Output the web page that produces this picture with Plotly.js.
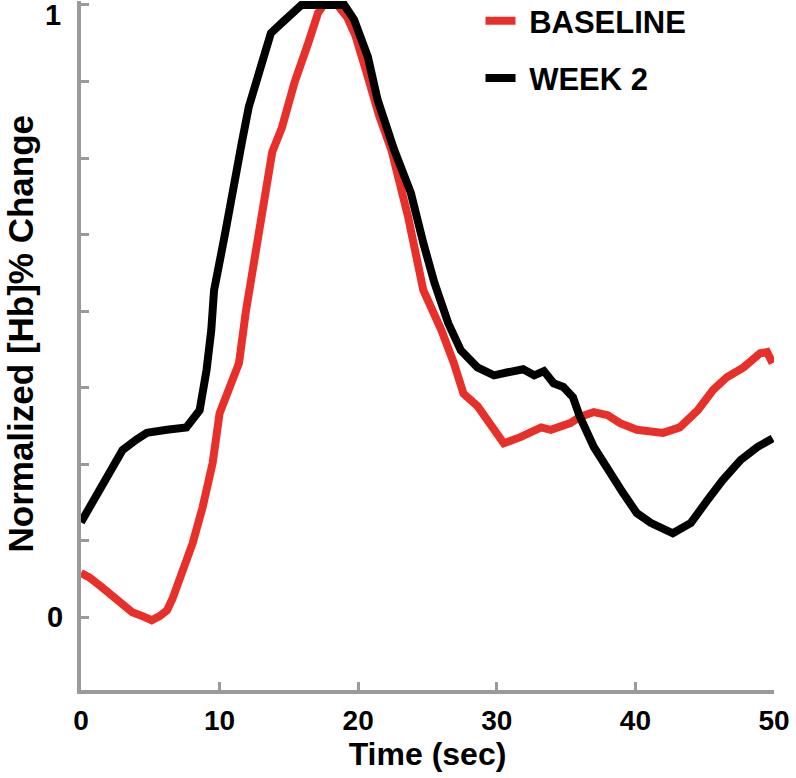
<!DOCTYPE html>
<html>
<head>
<meta charset="utf-8">
<script src="https://cdn.plot.ly/plotly-3.0.1.min.js"></script>
<style>html,body{margin:0;padding:0;background:#fff;}#chart{width:796px;height:778px;}</style>
</head>
<body>
<div id="chart"></div>
<script>
// Time (sec) and normalized values, BASELINE
const baselineTime = [0, 0.6, 1.5, 2.6, 3.7, 4.4, 5.1, 5.7, 6.2, 6.6, 7.1, 8.06, 8.78, 9.5, 10.0, 10.7, 11.4, 11.9, 12.8, 13.4, 13.8, 14.5, 15.4, 16.4, 17.1, 17.5, 18.5, 19.2, 19.8, 20.6, 21.5, 22.4, 23.6, 24.7, 26.0, 26.9, 27.6, 28.6, 29.6, 30.5, 31.7, 33.2, 33.9, 35.3, 36.0, 37.0, 38.0, 38.9, 40.1, 42.0, 43.2, 44.5, 45.6, 46.6, 47.8, 49.0, 49.5, 49.9];
const baselineValue = [0.072, 0.065, 0.049, 0.028, 0.008, 0.002, -0.005, 0.002, 0.011, 0.03, 0.06, 0.121, 0.18, 0.252, 0.333, 0.376, 0.415, 0.5, 0.627, 0.715, 0.76, 0.8, 0.873, 0.938, 0.987, 1.0, 1.0, 0.98, 0.95, 0.89, 0.82, 0.763, 0.654, 0.534, 0.469, 0.415, 0.365, 0.345, 0.31, 0.284, 0.294, 0.31, 0.306, 0.317, 0.327, 0.335, 0.33, 0.317, 0.306, 0.301, 0.31, 0.338, 0.371, 0.392, 0.408, 0.431, 0.433, 0.415];

// WEEK 2
const week2Time = [0, 1.37, 3.0, 4.0, 4.75, 6.2, 7.6, 8.56, 9.06, 9.4, 9.6, 10.4, 11.1, 11.6, 12.1, 12.5, 13.7, 14.5, 15.4, 15.9, 19.0, 19.7, 20.7, 21.4, 22.6, 23.8, 24.7, 25.5, 26.5, 27.4, 28.6, 29.8, 30.8, 31.9, 32.7, 33.4, 34.1, 34.8, 35.5, 36.0, 37.0, 38.0, 39.1, 40.1, 41.1, 42.7, 44.0, 45.2, 46.3, 47.6, 48.8, 49.9];
const week2Value = [0.155, 0.207, 0.273, 0.29, 0.301, 0.306, 0.31, 0.338, 0.404, 0.469, 0.534, 0.627, 0.725, 0.775, 0.833, 0.866, 0.954, 0.971, 0.992, 1.0, 1.0, 0.976, 0.915, 0.845, 0.763, 0.693, 0.611, 0.546, 0.48, 0.436, 0.408, 0.395, 0.4, 0.405, 0.395, 0.402, 0.382, 0.376, 0.359, 0.327, 0.278, 0.24, 0.203, 0.17, 0.154, 0.137, 0.154, 0.191, 0.224, 0.257, 0.278, 0.292];

const seriesNames = ['\u00a0BASELINE', '\u00a0WEEK 2'];
const xTickVals = [0, 10, 20, 30, 40, 50];
const xTickText = ['0', '10', '20', '30', '40', '50'];
const yTickVals = [0, 0.125, 0.25, 0.375, 0.5, 0.625, 0.75, 0.875, 1];
const yTickText = ['0', '', '', '', '', '', '', '', ''];
const yTopLabel = '1';
const yTopValue = 1;
const xTitle = 'Time (sec)';
const yTitle = 'Normalized [Hb]% Change';

const boldFont = {family: 'Liberation Sans, Arial, sans-serif', weight: 'bold', color: '#000'};

const traces = [
  {x: baselineTime, y: baselineValue, type: 'scatter', mode: 'lines', name: seriesNames[0],
   legendgroup: 'a', line: {color: '#e8302a', width: 8}},
  {x: week2Time, y: week2Value, type: 'scatter', mode: 'lines', name: seriesNames[1],
   legendgroup: 'b', line: {color: '#000000', width: 8}}
];

const layout = {
  width: 796, height: 778,
  margin: {l: 81, r: 22, t: 1, b: 88, autoexpand: false},
  paper_bgcolor: '#fff', plot_bgcolor: '#fff',
  showlegend: true,
  legend: {x: 0.5765, xanchor: 'left', y: 1.01, yanchor: 'top',
    font: Object.assign({}, boldFont, {size: 31}), traceorder: 'grouped', tracegroupgap: 14,
    bgcolor: 'rgba(0,0,0,0)'},
  xaxis: {range: [0, 50], showgrid: false, zeroline: false,
    showline: true, linecolor: '#9a9a9a', linewidth: 4,
    ticks: 'inside', ticklen: 8, tickwidth: 3, tickcolor: '#9a9a9a',
    tickmode: 'array', tickvals: xTickVals, ticktext: xTickText,
    tickfont: Object.assign({}, boldFont, {size: 28}), ticklabelstandoff: 2,
    title: {text: xTitle, font: Object.assign({}, boldFont, {size: 32}), standoff: 0}},
  yaxis: {range: [-0.119, 1.0065], showgrid: false, zeroline: false,
    showline: true, linecolor: '#9a9a9a', linewidth: 4,
    ticks: 'inside', ticklen: 8, tickwidth: 3, tickcolor: '#9a9a9a',
    tickmode: 'array', tickvals: yTickVals, ticktext: yTickText,
    tickfont: Object.assign({}, boldFont, {size: 29}), ticklabelstandoff: 8},
  annotations: [
    {xref: 'paper', yref: 'y', x: 0, y: yTopValue, text: yTopLabel, showarrow: false,
     xanchor: 'right', yanchor: 'middle', xshift: -18, yshift: -10.5,
     font: Object.assign({}, boldFont, {size: 29})},
    {xref: 'paper', yref: 'paper', x: 0, y: 0.5, text: yTitle, showarrow: false,
     textangle: -90, xanchor: 'center', yanchor: 'middle', xshift: -61, yshift: 12,
     borderpad: 0,
     font: Object.assign({}, boldFont, {size: 35})}
  ]
};

Plotly.newPlot('chart', traces, layout, {displayModeBar: false, staticPlot: true});
</script>
</body>
</html>
